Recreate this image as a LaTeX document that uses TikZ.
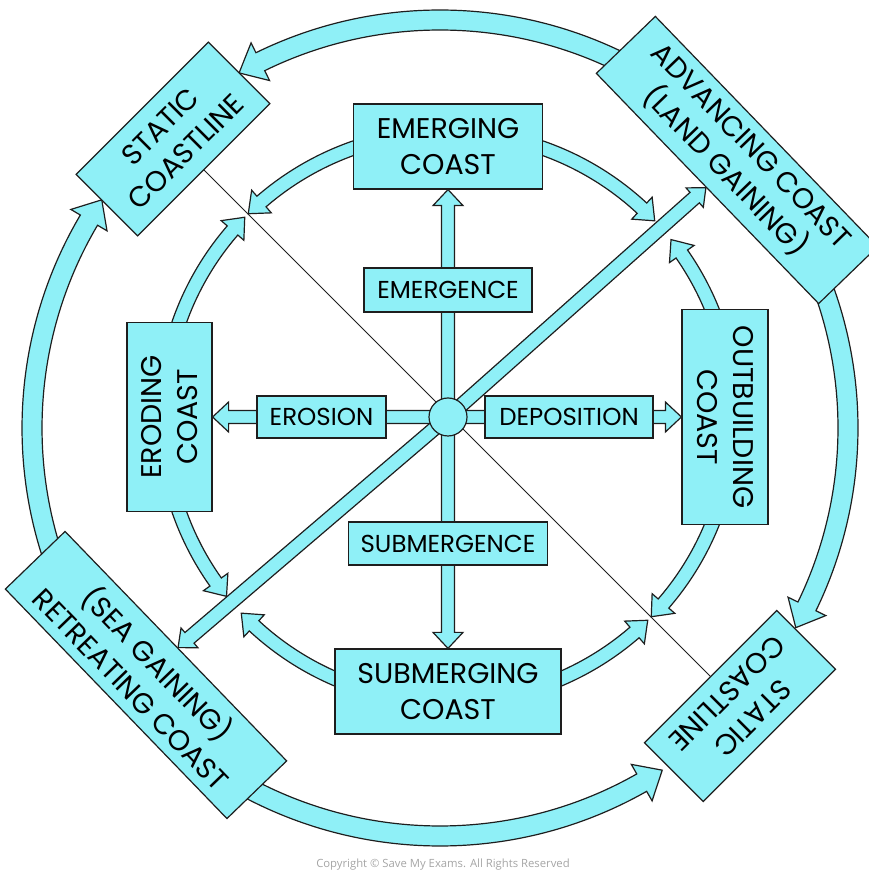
\documentclass[tikz,border=0pt]{standalone}
\usepackage{fontspec}
\newfontfamily\popf{Poppins}
\newfontfamily\cpyf{Open Sans}
\usetikzlibrary{calc}
\definecolor{cy}{RGB}{143,240,247}
\definecolor{ink}{RGB}{30,30,30}
\definecolor{cpy}{RGB}{165,165,165}

% arc-shaped block arrow: #1 centre, #2 radius, #3 start angle, #4 tip angle, #5 half shaft, #6 half head, #7 head length
\newcommand{\ArcArrow}[7]{%
  \pgfmathsetmacro{\aaD}{(#4>#3) ? (deg(#7/#2)) : (-deg(#7/#2))}%
  \pgfmathsetmacro{\aaB}{#4-(\aaD)}%
  \pgfmathsetmacro{\aaRo}{#2+#5}\pgfmathsetmacro{\aaRi}{#2-#5}%
  \pgfmathsetmacro{\aaHo}{#2+#6}\pgfmathsetmacro{\aaHi}{#2-#6}%
  \draw[arr] ($(#1)+(#3:\aaRo)$) arc[start angle=#3, end angle=\aaB, radius=\aaRo]
     -- ($(#1)+(\aaB:\aaHo)$) -- ($(#1)+(#4:#2)$) -- ($(#1)+(\aaB:\aaHi)$)
     -- ($(#1)+(\aaB:\aaRi)$) arc[start angle=\aaB, end angle=#3, radius=\aaRi] -- cycle;}

% straight block arrow from coordinate #1 to node #2: #3 half shaft, #4 half head, #5 head length
\newcommand{\BlockArrow}[5]{%
  \path (#1) -- (#2) coordinate[pos=0] (ba-s) coordinate[pos=1] (ba-t);
  \coordinate (ba-b) at ($(ba-t)!#5pt!(ba-s)$);
  \draw[arr] ($(ba-s)!#3pt!90:(ba-t)$) -- ($(ba-b)!#3pt!90:(ba-t)$) -- ($(ba-b)!#4pt!90:(ba-t)$)
     -- (ba-t) -- ($(ba-b)!#4pt!-90:(ba-t)$) -- ($(ba-b)!#3pt!-90:(ba-t)$) -- ($(ba-s)!#3pt!-90:(ba-t)$) -- cycle;}

\begin{document}
\begin{tikzpicture}[x=1pt,y=1pt,
  arr/.style={draw=ink,fill=cy,line width=1.2pt,line join=miter},
  mainbox/.style={draw=ink,fill=cy,line width=1.2pt,align=center,inner sep=0pt,
     font=\popf\fontsize{28.5}{36}\selectfont},
  labbox/.style={draw=ink,fill=cy,line width=1.2pt,inner sep=0pt,
     font=\popf\fontsize{24.5}{28}\selectfont},
]
\useasboundingbox (0,0) rectangle (868,873);

% centres
\coordinate (ci) at (448,456);
\coordinate (co) at (440,445);
\coordinate (tlc) at (173,734);
\coordinate (brc) at (740,167);

% thin diagonal line
\draw[ink, line width=0.8pt] (tlc) -- (brc);

% outer ring arrows
\ArcArrow{co}{408}{60}{119.5}{10}{21}{24}
\ArcArrow{co}{408}{30}{-29.3}{10}{21}{24}
\ArcArrow{co}{408}{210}{146}{10}{21}{24}
\ArcArrow{co}{408}{240}{303}{10}{21}{24}

% inner ring arrows
\ArcArrow{ci}{285}{90}{134.5}{7}{15}{18}
\ArcArrow{ci}{285}{90}{43.5}{7}{15}{18}
\ArcArrow{ci}{285}{0}{38.5}{7}{15}{18}
\ArcArrow{ci}{285}{0}{-44.5}{7}{15}{18}
\ArcArrow{ci}{285}{180}{135.5}{7}{15}{18}
\ArcArrow{ci}{285}{180}{219}{7}{15}{18}
\ArcArrow{ci}{285}{270}{223.5}{7}{15}{18}
\ArcArrow{ci}{285}{270}{314.5}{7}{15}{18}

% main boxes
\node[mainbox, minimum width=189pt, minimum height=85pt] (emerging) at (448,726.5) {EMERGING\\COAST};
\node[mainbox, minimum width=226pt, minimum height=85pt] (submerging) at (448,181.5) {SUBMERGING\\COAST};
\node[mainbox, minimum width=189pt, minimum height=85pt, rotate=90] (eroding) at (169.5,456) {ERODING\\COAST};
\node[mainbox, minimum width=215pt, minimum height=86pt, rotate=-90] (outbuilding) at (725,456) {OUTBUILDING\\COAST};

% corner boxes
\node[mainbox, minimum width=187pt, minimum height=87pt, rotate=45] (statictl) at (tlc) {STATIC\\COASTLINE};
\node[mainbox, minimum width=187pt, minimum height=83pt, rotate=225] (staticbr) at (brc) {STATIC\\COASTLINE};
\node[mainbox, minimum width=320pt, minimum height=82pt, rotate=-46] (advancing) at (737,713) {ADVANCING COAST\\(LAND GAINING)};
\node[mainbox, minimum width=319pt, minimum height=83pt, rotate=-46] (retreating) at (146,198) {(SEA GAINING)\\RETREATING COAST};

% straight arrows from the hub
\BlockArrow{ci}{emerging}{6.5}{15}{16}
\BlockArrow{ci}{submerging}{6.5}{15}{16}
\BlockArrow{ci}{eroding}{6.5}{15}{16}
\BlockArrow{ci}{outbuilding}{6.5}{15}{16}
\BlockArrow{ci}{advancing}{7}{13}{15}
\BlockArrow{ci}{retreating}{7}{13}{15}

% hub and process labels
\node[circle, draw=ink, fill=cy, line width=1.2pt, minimum size=38pt, inner sep=0pt] (hub) at (ci) {};
\node[labbox, minimum width=168pt, minimum height=44pt] (emergence) at (448,583) {EMERGENCE};
\node[labbox, minimum width=199pt, minimum height=43pt] (submergence) at (448,329.5) {SUBMERGENCE};
\node[labbox, minimum width=129pt, minimum height=42pt] (erosion) at (321.5,456) {EROSION};
\node[labbox, minimum width=168pt, minimum height=42pt] (deposition) at (569,456) {DEPOSITION};

% copyright
\node[text=cpy, font=\cpyf\fontsize{11.3}{13}\selectfont] (copyright) at (443,8) {Copyright © Save My Exams. All Rights Reserved};
\end{tikzpicture}
\end{document}
